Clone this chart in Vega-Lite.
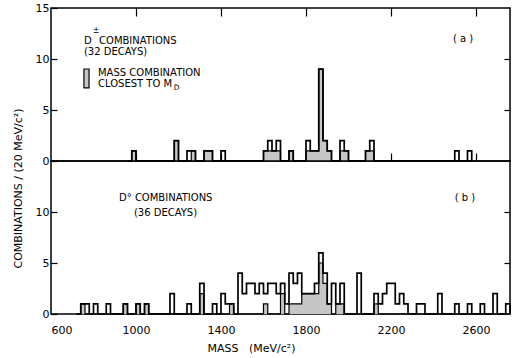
{
  "$schema": "https://vega.github.io/schema/vega-lite/v6.json",
  "padding": {"left": 11, "top": 1, "right": 0, "bottom": 0},
  "background": "white",
  "config": {
    "view": {"stroke": "black", "strokeWidth": 1.5},
    "font": "DejaVu Sans",
    "axis": {"domain": false, "grid": false, "labelFont": "DejaVu Sans", "labelFontSize": 11, "labelColor": "black", "tickColor": "black", "tickWidth": 1.2, "titleFont": "DejaVu Sans", "titleFontSize": 11, "titleFontWeight": "normal", "titleColor": "black"},
    "text": {"font": "DejaVu Sans", "fontSize": 10, "color": "black"}
  },
  "datasets": {
    "one": [{}],
    "a": [
      {"lo": 960, "n": 0, "s": 0}, {"lo": 980, "n": 1, "s": 1}, {"lo": 1000, "n": 0, "s": 0},
      {"lo": 1180, "n": 2, "s": 2}, {"lo": 1200, "n": 0, "s": 0},
      {"lo": 1240, "n": 1, "s": 0}, {"lo": 1260, "n": 1, "s": 1}, {"lo": 1280, "n": 0, "s": 0},
      {"lo": 1320, "n": 1, "s": 1}, {"lo": 1340, "n": 1, "s": 1}, {"lo": 1360, "n": 0, "s": 0},
      {"lo": 1400, "n": 1, "s": 0}, {"lo": 1420, "n": 0, "s": 0},
      {"lo": 1600, "n": 1, "s": 1}, {"lo": 1620, "n": 2, "s": 1}, {"lo": 1640, "n": 1, "s": 1}, {"lo": 1660, "n": 2, "s": 1}, {"lo": 1680, "n": 0, "s": 0},
      {"lo": 1720, "n": 1, "s": 1}, {"lo": 1740, "n": 0, "s": 0},
      {"lo": 1800, "n": 2, "s": 1}, {"lo": 1820, "n": 1, "s": 1}, {"lo": 1840, "n": 1, "s": 1}, {"lo": 1860, "n": 9, "s": 9}, {"lo": 1880, "n": 2, "s": 2}, {"lo": 1900, "n": 1, "s": 1}, {"lo": 1920, "n": 0, "s": 0},
      {"lo": 1960, "n": 2, "s": 1}, {"lo": 1980, "n": 1, "s": 1}, {"lo": 2000, "n": 0, "s": 0},
      {"lo": 2080, "n": 1, "s": 1}, {"lo": 2100, "n": 2, "s": 1}, {"lo": 2120, "n": 0, "s": 0},
      {"lo": 2500, "n": 1, "s": 0}, {"lo": 2520, "n": 0, "s": 0},
      {"lo": 2560, "n": 1, "s": 0}, {"lo": 2580, "n": 0, "s": 0}
    ],
    "b": [
      {"lo": 720, "n": 0, "s": 0}, {"lo": 740, "n": 1, "s": 1}, {"lo": 760, "n": 1, "s": 0}, {"lo": 780, "n": 0, "s": 0},
      {"lo": 800, "n": 1, "s": 0}, {"lo": 820, "n": 0, "s": 0},
      {"lo": 860, "n": 1, "s": 0}, {"lo": 880, "n": 0, "s": 0},
      {"lo": 940, "n": 1, "s": 1}, {"lo": 960, "n": 0, "s": 0},
      {"lo": 1000, "n": 1, "s": 1}, {"lo": 1020, "n": 0, "s": 0},
      {"lo": 1040, "n": 1, "s": 1}, {"lo": 1060, "n": 0, "s": 0},
      {"lo": 1160, "n": 2, "s": 0}, {"lo": 1180, "n": 0, "s": 0},
      {"lo": 1240, "n": 1, "s": 0}, {"lo": 1260, "n": 0, "s": 0},
      {"lo": 1300, "n": 3, "s": 2}, {"lo": 1320, "n": 0, "s": 0},
      {"lo": 1360, "n": 1, "s": 0}, {"lo": 1380, "n": 0, "s": 0},
      {"lo": 1400, "n": 2, "s": 0}, {"lo": 1420, "n": 1, "s": 0}, {"lo": 1440, "n": 1, "s": 1}, {"lo": 1460, "n": 0, "s": 0},
      {"lo": 1480, "n": 4, "s": 0}, {"lo": 1500, "n": 2, "s": 0}, {"lo": 1520, "n": 3, "s": 0}, {"lo": 1540, "n": 3, "s": 0},
      {"lo": 1560, "n": 2, "s": 0}, {"lo": 1580, "n": 3, "s": 0}, {"lo": 1600, "n": 2, "s": 1}, {"lo": 1620, "n": 3, "s": 0},
      {"lo": 1640, "n": 3, "s": 0}, {"lo": 1660, "n": 2, "s": 0}, {"lo": 1680, "n": 3, "s": 2}, {"lo": 1700, "n": 1, "s": 0},
      {"lo": 1720, "n": 4, "s": 1}, {"lo": 1740, "n": 3, "s": 1}, {"lo": 1760, "n": 4, "s": 1}, {"lo": 1780, "n": 2, "s": 2},
      {"lo": 1800, "n": 2, "s": 2}, {"lo": 1820, "n": 2, "s": 2}, {"lo": 1840, "n": 3, "s": 2}, {"lo": 1860, "n": 6, "s": 5},
      {"lo": 1880, "n": 4, "s": 3}, {"lo": 1900, "n": 1, "s": 1}, {"lo": 1920, "n": 3, "s": 0}, {"lo": 1940, "n": 1, "s": 1},
      {"lo": 1960, "n": 3, "s": 1}, {"lo": 1980, "n": 0, "s": 0},
      {"lo": 2040, "n": 4, "s": 0}, {"lo": 2060, "n": 0, "s": 0},
      {"lo": 2120, "n": 2, "s": 1}, {"lo": 2140, "n": 1, "s": 0}, {"lo": 2160, "n": 2, "s": 0}, {"lo": 2180, "n": 3, "s": 0},
      {"lo": 2200, "n": 3, "s": 0}, {"lo": 2220, "n": 1, "s": 0}, {"lo": 2240, "n": 2, "s": 0}, {"lo": 2260, "n": 1, "s": 0}, {"lo": 2280, "n": 0, "s": 0},
      {"lo": 2320, "n": 1, "s": 0}, {"lo": 2340, "n": 1, "s": 0}, {"lo": 2360, "n": 0, "s": 0},
      {"lo": 2420, "n": 2, "s": 0}, {"lo": 2440, "n": 0, "s": 0},
      {"lo": 2500, "n": 1, "s": 0}, {"lo": 2520, "n": 0, "s": 0},
      {"lo": 2560, "n": 1, "s": 0}, {"lo": 2580, "n": 0, "s": 0},
      {"lo": 2620, "n": 1, "s": 0}, {"lo": 2640, "n": 0, "s": 0},
      {"lo": 2680, "n": 2, "s": 0}, {"lo": 2700, "n": 0, "s": 0},
      {"lo": 2740, "n": 1, "s": 0}, {"lo": 2760, "n": 0, "s": 0}
    ]
  },
  "spacing": 0,
  "bounds": "flush",
  "vconcat": [
    {
      "width": 459,
      "height": 153,
      "resolve": {"axis": {"x": "independent", "y": "independent"}},
      "layer": [
        {
          "data": {"name": "a"},
          "mark": {"type": "area", "interpolate": "step-after", "fill": "#c6c6c6"},
          "encoding": {
            "x": {"field": "lo", "type": "quantitative", "scale": {"domain": [600, 2760], "nice": false, "zero": false},
                  "axis": {"orient": "bottom", "values": [1000, 1400, 1800, 2200, 2600], "labels": false, "tickSize": -8, "title": null}},
            "y": {"field": "s", "type": "quantitative", "scale": {"domain": [0, 15], "nice": false},
                  "axis": {"orient": "left", "values": [0, 5, 10, 15], "tickSize": -6, "labelPadding": 8, "title": null}}
          }
        },
        {
          "data": {"name": "a"},
          "mark": {"type": "line", "interpolate": "step-after", "stroke": "black", "strokeWidth": 1.2},
          "encoding": {
            "x": {"field": "lo", "type": "quantitative", "scale": {"domain": [600, 2760], "nice": false, "zero": false},
                  "axis": {"orient": "top", "values": [1000, 1400, 1800, 2200, 2600], "labels": false, "tickSize": -8, "title": null}},
            "y": {"field": "s", "type": "quantitative", "scale": {"domain": [0, 15], "nice": false},
                  "axis": {"orient": "right", "values": [5, 10], "labels": false, "tickSize": -6, "title": null}}
          }
        },
        {
          "data": {"name": "a"},
          "mark": {"type": "line", "interpolate": "step-after", "stroke": "black", "strokeWidth": 1.7},
          "encoding": {
            "x": {"field": "lo", "type": "quantitative", "scale": {"domain": [600, 2760], "nice": false, "zero": false}, "axis": null},
            "y": {"field": "n", "type": "quantitative", "scale": {"domain": [0, 15], "nice": false}, "axis": null}
          }
        },
        {
          "data": {"name": "one"},
          "mark": {"type": "rect", "fill": "#c6c6c6", "stroke": "black", "strokeWidth": 1.2},
          "encoding": {
            "x": {"datum": 755, "type": "quantitative", "scale": {"domain": [600, 2760], "nice": false, "zero": false}, "axis": null},
            "x2": {"datum": 779},
            "y": {"datum": 7.16, "type": "quantitative", "scale": {"domain": [0, 15], "nice": false}, "axis": null},
            "y2": {"datum": 9.02}
          }
        },
        {
          "data": {"name": "one"},
          "mark": {"type": "text", "align": "left", "baseline": "middle"},
          "encoding": {
            "x": {"datum": 755, "type": "quantitative", "scale": {"domain": [600, 2760], "nice": false, "zero": false}, "axis": null},
            "y": {"datum": 11.76, "type": "quantitative", "scale": {"domain": [0, 15], "nice": false}, "axis": null},
            "text": {"value": "D"}
          }
        },
        {
          "data": {"name": "one"},
          "mark": {"type": "text", "align": "left", "baseline": "middle", "fontSize": 8},
          "encoding": {
            "x": {"datum": 796, "type": "quantitative", "scale": {"domain": [600, 2760], "nice": false, "zero": false}, "axis": null},
            "y": {"datum": 12.75, "type": "quantitative", "scale": {"domain": [0, 15], "nice": false}, "axis": null},
            "text": {"value": "±"}
          }
        },
        {
          "data": {"name": "one"},
          "mark": {"type": "text", "align": "left", "baseline": "middle"},
          "encoding": {
            "x": {"datum": 826, "type": "quantitative", "scale": {"domain": [600, 2760], "nice": false, "zero": false}, "axis": null},
            "y": {"datum": 11.76, "type": "quantitative", "scale": {"domain": [0, 15], "nice": false}, "axis": null},
            "text": {"value": "COMBINATIONS"}
          }
        },
        {
          "data": {"name": "one"},
          "mark": {"type": "text", "align": "left", "baseline": "middle"},
          "encoding": {
            "x": {"datum": 755, "type": "quantitative", "scale": {"domain": [600, 2760], "nice": false, "zero": false}, "axis": null},
            "y": {"datum": 10.69, "type": "quantitative", "scale": {"domain": [0, 15], "nice": false}, "axis": null},
            "text": {"value": "(32 DECAYS)"}
          }
        },
        {
          "data": {"name": "one"},
          "mark": {"type": "text", "align": "left", "baseline": "middle"},
          "encoding": {
            "x": {"datum": 821, "type": "quantitative", "scale": {"domain": [600, 2760], "nice": false, "zero": false}, "axis": null},
            "y": {"datum": 8.63, "type": "quantitative", "scale": {"domain": [0, 15], "nice": false}, "axis": null},
            "text": {"value": "MASS COMBINATION"}
          }
        },
        {
          "data": {"name": "one"},
          "mark": {"type": "text", "align": "left", "baseline": "middle"},
          "encoding": {
            "x": {"datum": 821, "type": "quantitative", "scale": {"domain": [600, 2760], "nice": false, "zero": false}, "axis": null},
            "y": {"datum": 7.55, "type": "quantitative", "scale": {"domain": [0, 15], "nice": false}, "axis": null},
            "text": {"value": "CLOSEST TO M"}
          }
        },
        {
          "data": {"name": "one"},
          "mark": {"type": "text", "align": "left", "baseline": "middle", "fontSize": 7.5},
          "encoding": {
            "x": {"datum": 1178, "type": "quantitative", "scale": {"domain": [600, 2760], "nice": false, "zero": false}, "axis": null},
            "y": {"datum": 7.15, "type": "quantitative", "scale": {"domain": [0, 15], "nice": false}, "axis": null},
            "text": {"value": "D"}
          }
        },
        {
          "data": {"name": "one"},
          "mark": {"type": "text", "align": "center", "baseline": "middle"},
          "encoding": {
            "x": {"datum": 2539, "type": "quantitative", "scale": {"domain": [600, 2760], "nice": false, "zero": false}, "axis": null},
            "y": {"datum": 11.96, "type": "quantitative", "scale": {"domain": [0, 15], "nice": false}, "axis": null},
            "text": {"value": "( a )"}
          }
        }
      ]
    },
    {
      "width": 459,
      "height": 153,
      "resolve": {"axis": {"x": "independent", "y": "independent"}},
      "layer": [
        {
          "data": {"name": "b"},
          "mark": {"type": "area", "interpolate": "step-after", "fill": "#c6c6c6"},
          "encoding": {
            "x": {"field": "lo", "type": "quantitative", "scale": {"domain": [600, 2760], "nice": false, "zero": false},
                  "axis": {"orient": "bottom", "values": [600, 1000, 1400, 1800, 2200, 2600], "format": "d", "ticks": false, "labelPadding": 10,
                           "title": "MASS\u00a0\u00a0\u00a0(MeV/c²)", "titleX": 200, "titleY": 34, "titleAlign": "center", "titleBaseline": "middle"}},
            "y": {"field": "s", "type": "quantitative", "scale": {"domain": [0, 15], "nice": false},
                  "axis": {"orient": "left", "values": [0, 5, 10], "tickSize": -6, "labelPadding": 8,
                           "title": "COMBINATIONS / (20 MeV/c²)", "titleX": -33, "titleY": 27, "titleAngle": 270, "titleAlign": "center", "titleBaseline": "middle"}}
          }
        },
        {
          "data": {"name": "b"},
          "mark": {"type": "line", "interpolate": "step-after", "stroke": "black", "strokeWidth": 1.2},
          "encoding": {
            "x": {"field": "lo", "type": "quantitative", "scale": {"domain": [600, 2760], "nice": false, "zero": false}, "axis": null},
            "y": {"field": "s", "type": "quantitative", "scale": {"domain": [0, 15], "nice": false},
                  "axis": {"orient": "right", "values": [5, 10], "labels": false, "tickSize": -6, "title": null}}
          }
        },
        {
          "data": {"name": "b"},
          "mark": {"type": "line", "interpolate": "step-after", "stroke": "black", "strokeWidth": 1.7},
          "encoding": {
            "x": {"field": "lo", "type": "quantitative", "scale": {"domain": [600, 2760], "nice": false, "zero": false}, "axis": null},
            "y": {"field": "n", "type": "quantitative", "scale": {"domain": [0, 15], "nice": false}, "axis": null}
          }
        },
        {
          "data": {"name": "one"},
          "mark": {"type": "text", "align": "left", "baseline": "middle"},
          "encoding": {
            "x": {"datum": 920, "type": "quantitative", "scale": {"domain": [600, 2760], "nice": false, "zero": false}, "axis": null},
            "y": {"datum": 11.37, "type": "quantitative", "scale": {"domain": [0, 15], "nice": false}, "axis": null},
            "text": {"value": "D° COMBINATIONS"}
          }
        },
        {
          "data": {"name": "one"},
          "mark": {"type": "text", "align": "left", "baseline": "middle"},
          "encoding": {
            "x": {"datum": 990, "type": "quantitative", "scale": {"domain": [600, 2760], "nice": false, "zero": false}, "axis": null},
            "y": {"datum": 9.9, "type": "quantitative", "scale": {"domain": [0, 15], "nice": false}, "axis": null},
            "text": {"value": "(36 DECAYS)"}
          }
        },
        {
          "data": {"name": "one"},
          "mark": {"type": "text", "align": "center", "baseline": "middle"},
          "encoding": {
            "x": {"datum": 2548, "type": "quantitative", "scale": {"domain": [600, 2760], "nice": false, "zero": false}, "axis": null},
            "y": {"datum": 11.37, "type": "quantitative", "scale": {"domain": [0, 15], "nice": false}, "axis": null},
            "text": {"value": "( b )"}
          }
        }
      ]
    }
  ]
}
